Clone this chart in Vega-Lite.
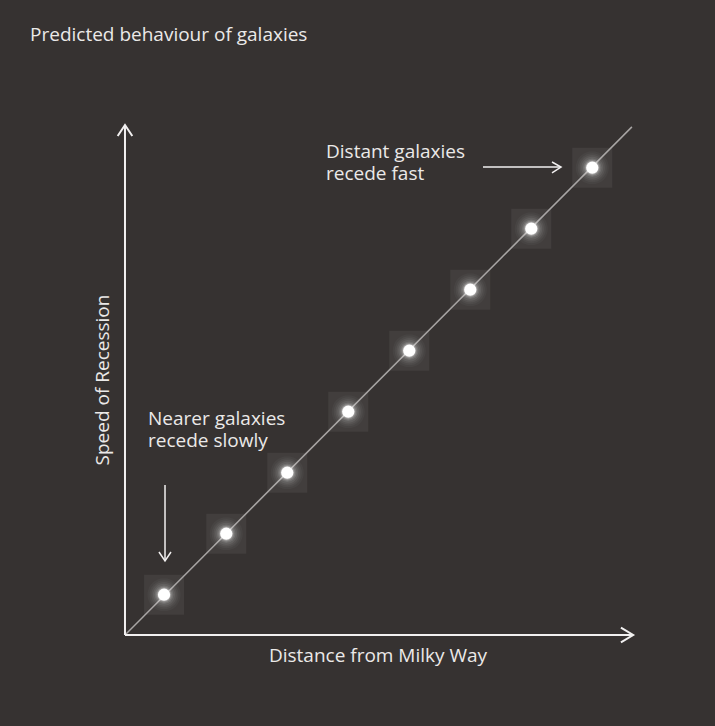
{
  "$schema": "https://vega.github.io/schema/vega-lite/v6.json",
  "width": 715,
  "height": 726,
  "padding": 0,
  "autosize": {"type": "none"},
  "background": "#363231",
  "config": {"view": {"stroke": null}, "text": {"font": "Open Sans", "color": "#ebe9e8", "fontSize": 19}},
  "datasets": {
    "galaxies": [
      {"distance": 0.64, "speed": 0.66},
      {"distance": 1.66, "speed": 1.66},
      {"distance": 2.66, "speed": 2.66},
      {"distance": 3.66, "speed": 3.66},
      {"distance": 4.66, "speed": 4.66},
      {"distance": 5.66, "speed": 5.66},
      {"distance": 6.66, "speed": 6.66},
      {"distance": 7.66, "speed": 7.66}
    ],
    "trend": [
      {"distance": 0, "speed": 0},
      {"distance": 8.31, "speed": 8.33}
    ],
    "axes": [
      {"seg": "yaxis", "o": 1, "distance": 0, "speed": 0},
      {"seg": "yaxis", "o": 2, "distance": 0, "speed": 8.36},
      {"seg": "yhead", "o": 1, "distance": -0.12, "speed": 8.18},
      {"seg": "yhead", "o": 2, "distance": 0, "speed": 8.36},
      {"seg": "yhead", "o": 3, "distance": 0.12, "speed": 8.18},
      {"seg": "xaxis", "o": 1, "distance": 0, "speed": 0},
      {"seg": "xaxis", "o": 2, "distance": 8.33, "speed": 0},
      {"seg": "xhead", "o": 1, "distance": 8.13, "speed": 0.12},
      {"seg": "xhead", "o": 2, "distance": 8.33, "speed": 0},
      {"seg": "xhead", "o": 3, "distance": 8.13, "speed": -0.12}
    ],
    "pointers": [
      {"seg": "down", "o": 1, "distance": 0.656, "speed": 2.46},
      {"seg": "down", "o": 2, "distance": 0.656, "speed": 1.213},
      {"seg": "downhead", "o": 1, "distance": 0.557, "speed": 1.361},
      {"seg": "downhead", "o": 2, "distance": 0.656, "speed": 1.213},
      {"seg": "downhead", "o": 3, "distance": 0.754, "speed": 1.361},
      {"seg": "right", "o": 1, "distance": 5.869, "speed": 7.672},
      {"seg": "right", "o": 2, "distance": 7.148, "speed": 7.672},
      {"seg": "righthead", "o": 1, "distance": 7.0, "speed": 7.754},
      {"seg": "righthead", "o": 2, "distance": 7.148, "speed": 7.672},
      {"seg": "righthead", "o": 3, "distance": 7.0, "speed": 7.574}
    ],
    "labels": [
      {"label": "Predicted behaviour of galaxies", "distance": -1.557, "speed": 9.74},
      {"label": "Nearer galaxies\nrecede slowly", "distance": 0.377, "speed": 3.443},
      {"label": "Distant galaxies\nrecede fast", "distance": 3.295, "speed": 7.82}
    ],
    "xtitle": [{"label": "Distance from Milky Way", "distance": 4.148, "speed": -0.443}],
    "ytitle": [{"label": "Speed of Recession", "distance": -0.262, "speed": 4.18}]
  },
  "encoding": {
    "x": {"field": "distance", "type": "quantitative", "axis": null,
          "scale": {"domain": [-2.049, 9.672], "nice": false, "zero": false}},
    "y": {"field": "speed", "type": "quantitative", "axis": null,
          "scale": {"domain": [-1.492, 10.41], "nice": false, "zero": false}}
  },
  "layer": [
    {"data": {"name": "galaxies"},
     "mark": {"type": "square", "size": 1600, "color": "#423e3d", "opacity": 1}},
    {"data": {"name": "trend"},
     "mark": {"type": "line", "color": "#a8a5a4", "strokeWidth": 1.5}},
    {"data": {"name": "galaxies"},
     "mark": {"type": "circle", "size": 1100, "color": "#ffffff", "opacity": 0.03}},
    {"data": {"name": "galaxies"},
     "mark": {"type": "circle", "size": 850, "color": "#ffffff", "opacity": 0.04}},
    {"data": {"name": "galaxies"},
     "mark": {"type": "circle", "size": 650, "color": "#ffffff", "opacity": 0.05}},
    {"data": {"name": "galaxies"},
     "mark": {"type": "circle", "size": 480, "color": "#ffffff", "opacity": 0.07}},
    {"data": {"name": "galaxies"},
     "mark": {"type": "circle", "size": 350, "color": "#ffffff", "opacity": 0.1}},
    {"data": {"name": "galaxies"},
     "mark": {"type": "circle", "size": 250, "color": "#ffffff", "opacity": 0.15}},
    {"data": {"name": "galaxies"},
     "mark": {"type": "circle", "size": 190, "color": "#ffffff", "opacity": 0.25}},
    {"data": {"name": "galaxies"},
     "mark": {"type": "circle", "size": 150, "color": "#ffffff", "opacity": 1}},
    {"data": {"name": "axes"},
     "mark": {"type": "line", "color": "#f2f0f0", "strokeWidth": 2},
     "encoding": {"detail": {"field": "seg"}, "order": {"field": "o"}}},
    {"data": {"name": "pointers"},
     "mark": {"type": "line", "color": "#f2f0f0", "strokeWidth": 1.5},
     "encoding": {"detail": {"field": "seg"}, "order": {"field": "o"}}},
    {"data": {"name": "labels"},
     "mark": {"type": "text", "align": "left", "baseline": "alphabetic", "lineBreak": "\n", "lineHeight": 22.5},
     "encoding": {"text": {"field": "label"}}},
    {"data": {"name": "xtitle"},
     "mark": {"type": "text", "align": "center", "baseline": "alphabetic"},
     "encoding": {"text": {"field": "label"}}},
    {"data": {"name": "ytitle"},
     "mark": {"type": "text", "align": "center", "baseline": "alphabetic", "angle": 270},
     "encoding": {"text": {"field": "label"}}}
  ]
}
